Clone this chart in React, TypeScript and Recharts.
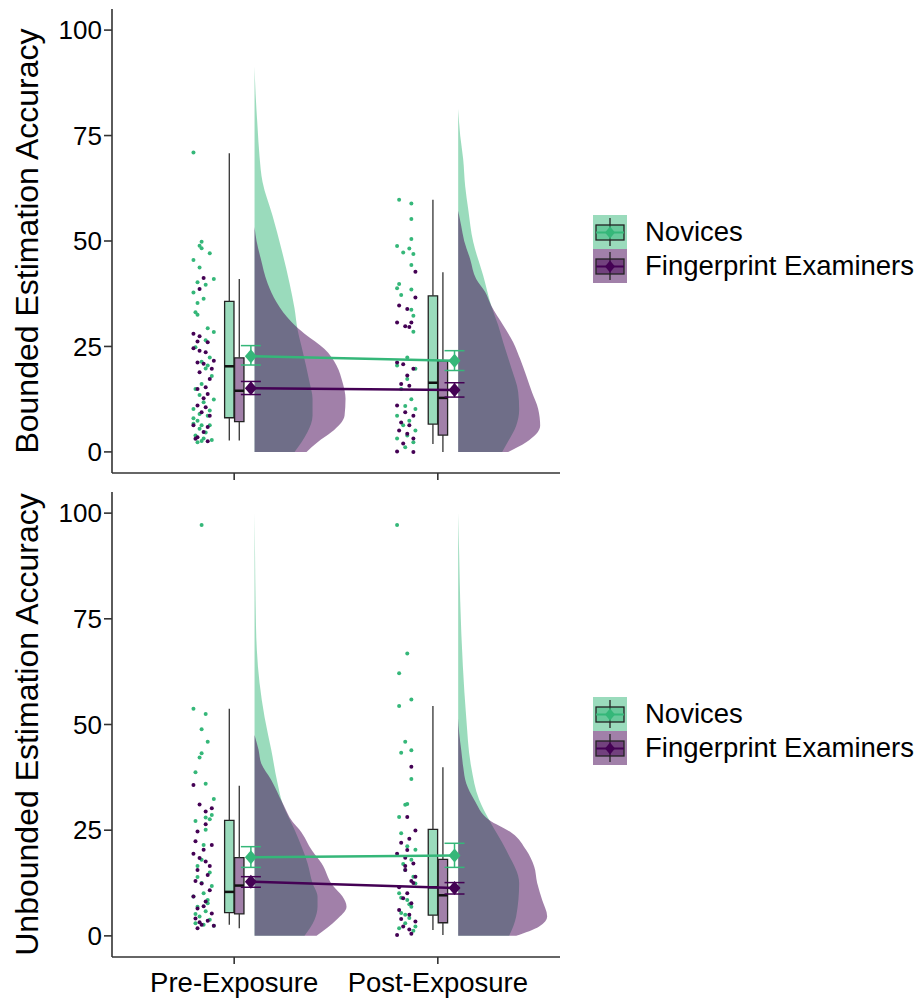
import { ComposedChart, Area, Scatter, XAxis, YAxis, ReferenceArea, ReferenceLine, ErrorBar, Legend } from "recharts"

const FONT = "'Liberation Sans', Arial, Helvetica, sans-serif"
const GREEN = "#35b779"
const PURPLE = "#440154"
const COLORS = [GREEN, PURPLE]

const conditions = ["Pre-Exposure", "Post-Exposure"]
const groupNames = ["Novices", "Fingerprint Examiners"]

// half-violin densities: [score, relative density]
const boundedPreNovicesDensity = [[91.3, 0], [85, 0.01], [77, 0.03], [70, 0.05], [64, 0.08], [56, 0.18], [48, 0.27], [40, 0.35], [34, 0.4], [29, 0.43], [24, 0.48], [16.5, 0.55], [12.6, 0.58], [8.6, 0.58], [4.7, 0.53], [2.3, 0.47], [0, 0.4]]
const boundedPreExaminersDensity = [[53.3, 0], [50, 0.02], [46, 0.06], [40, 0.13], [35.5, 0.22], [30.8, 0.37], [28, 0.5], [24.4, 0.7], [20.5, 0.82], [16.5, 0.88], [12.6, 0.91], [8.6, 0.9], [4.7, 0.77], [2.3, 0.63], [0, 0.52]]
const boundedPostNovicesDensity = [[81.3, 0], [75, 0.02], [69.4, 0.05], [63, 0.07], [57.6, 0.1], [49.8, 0.15], [41.8, 0.25], [34.7, 0.33], [30, 0.4], [26, 0.45], [20, 0.53], [14.2, 0.6], [10, 0.61], [6.2, 0.58], [2.5, 0.5], [0, 0.44]]
const boundedPostExaminersDensity = [[57.2, 0], [53.6, 0.03], [50, 0.06], [45.7, 0.12], [41, 0.18], [37.9, 0.27], [34.7, 0.33], [30, 0.45], [26, 0.55], [22, 0.62], [18.1, 0.68], [14, 0.74], [10.2, 0.8], [6.2, 0.82], [2.3, 0.68], [0, 0.5]]
const unboundedPreNovicesDensity = [[100, 0], [90, 0.005], [79.4, 0.01], [67.6, 0.023], [59.8, 0.05], [51.8, 0.1], [44, 0.167], [36.1, 0.23], [31.3, 0.28], [25.1, 0.4], [17.2, 0.53], [12.5, 0.58], [9.3, 0.63], [6.9, 0.63], [3.8, 0.6], [0, 0.5]]
const unboundedPreExaminersDensity = [[47.5, 0], [44, 0.04], [40.8, 0.067], [36.9, 0.167], [31.3, 0.283], [27, 0.38], [25.1, 0.45], [20, 0.58], [17.2, 0.67], [12, 0.78], [9.3, 0.88], [6.9, 0.92], [3.8, 0.82], [0, 0.62]]
const unboundedPostNovicesDensity = [[100, 0], [90, 0.01], [79.4, 0.02], [63.7, 0.047], [51.8, 0.08], [40, 0.13], [32.2, 0.21], [27.4, 0.31], [20.3, 0.48], [12.5, 0.61], [4.6, 0.58], [0, 0.51]]
const unboundedPostExaminersDensity = [[51.5, 0], [48, 0.01], [44, 0.03], [40, 0.05], [36.1, 0.08], [32.2, 0.16], [27.4, 0.31], [24.3, 0.54], [20.3, 0.68], [16.4, 0.76], [12.5, 0.79], [8.5, 0.84], [4.6, 0.89], [2.2, 0.81], [0, 0.58]]

// individual scores: [jittered x, score]
const boundedPreNovicesScores = [[0.8, 71.0], [0.84, 49.8], [0.83, 48.9], [0.84, 48.3], [0.88, 47.1], [0.8, 45.5], [0.83, 43.7], [0.82, 40.2], [0.86, 39.6], [0.9, 41.0], [0.8, 37.8], [0.85, 36.3], [0.82, 35.3], [0.81, 33.1], [0.82, 32.5], [0.87, 29.3], [0.9, 28.4], [0.88, 22.4], [0.86, 19.8], [0.84, 21.4], [0.87, 20.5], [0.84, 16.1], [0.81, 14.9], [0.85, 11.8], [0.9, 12.4], [0.8, 10.2], [0.83, 9.0], [0.87, 8.6], [0.82, 7.4], [0.8, 6.7], [0.84, 6.3], [0.88, 6.3], [0.83, 5.5], [0.81, 3.9], [0.85, 3.2], [0.89, 2.8], [0.82, 2.3], [0.86, 26.5], [0.81, 24.8], [0.89, 18.0], [0.83, 13.5], [0.86, 4.6], [0.88, 9.8], [0.8, 8.0], [0.84, 2.6]]
const boundedPreExaminersScores = [[0.85, 41.2], [0.83, 38.6], [0.8, 28.0], [0.83, 27.4], [0.82, 26.2], [0.87, 26.0], [0.8, 24.6], [0.83, 24.0], [0.86, 23.6], [0.9, 21.6], [0.82, 21.2], [0.85, 20.9], [0.89, 19.7], [0.83, 18.9], [0.88, 17.3], [0.82, 14.9], [0.86, 15.3], [0.87, 13.7], [0.85, 12.7], [0.82, 11.0], [0.86, 10.6], [0.84, 9.4], [0.88, 8.6], [0.8, 6.3], [0.87, 5.9], [0.85, 4.7], [0.82, 3.5], [0.87, 2.5], [0.81, 3.1]]
const boundedPostNovicesScores = [[1.81, 59.8], [1.87, 58.9], [1.87, 55.2], [1.87, 50.5], [1.8, 48.8], [1.83, 47.3], [1.86, 48.2], [1.88, 46.9], [1.87, 44.3], [1.81, 39.8], [1.8, 38.8], [1.82, 37.2], [1.87, 38.5], [1.87, 33.7], [1.88, 32.3], [1.88, 28.5], [1.85, 22.4], [1.8, 20.5], [1.89, 19.7], [1.85, 17.3], [1.82, 14.9], [1.87, 12.5], [1.84, 10.9], [1.89, 10.2], [1.8, 8.6], [1.86, 7.4], [1.83, 6.3], [1.89, 5.1], [1.85, 3.9], [1.8, 3.2], [1.88, 2.3], [1.84, 1.1]]
const boundedPostExaminersScores = [[1.89, 42.7], [1.89, 36.6], [1.81, 34.7], [1.85, 33.9], [1.8, 30.7], [1.84, 29.8], [1.87, 30.7], [1.86, 29.6], [1.8, 21.2], [1.83, 20.8], [1.88, 19.7], [1.85, 18.1], [1.82, 16.1], [1.86, 15.7], [1.8, 11.0], [1.84, 9.4], [1.88, 8.6], [1.82, 7.0], [1.86, 6.3], [1.81, 5.1], [1.85, 4.3], [1.88, 3.2], [1.83, 2.0], [1.8, 0.1], [1.88, 0.0]]
const unboundedPreNovicesScores = [[0.84, 97.2], [0.8, 53.7], [0.86, 52.5], [0.84, 48.9], [0.87, 45.9], [0.84, 43.2], [0.83, 42.2], [0.81, 38.7], [0.86, 36.0], [0.9, 32.4], [0.81, 27.2], [0.86, 28.0], [0.89, 28.6], [0.88, 27.6], [0.86, 25.1], [0.84, 18.0], [0.82, 13.9], [0.89, 11.8], [0.8, 9.3], [0.85, 10.1], [0.87, 7.7], [0.82, 6.9], [0.86, 5.8], [0.83, 4.6], [0.88, 3.8], [0.81, 3.0], [0.85, 2.6], [0.9, 2.4], [0.85, 21.5], [0.82, 16.5], [0.88, 15.0], [0.84, 12.5], [0.87, 8.5], [0.81, 5.2]]
const unboundedPreExaminersScores = [[0.8, 35.7], [0.83, 31.1], [0.89, 30.2], [0.86, 29.4], [0.86, 26.4], [0.82, 24.7], [0.81, 22.4], [0.89, 21.5], [0.8, 19.4], [0.83, 18.4], [0.86, 17.6], [0.82, 15.6], [0.87, 14.4], [0.84, 12.4], [0.88, 10.8], [0.8, 9.3], [0.86, 8.1], [0.82, 6.5], [0.89, 5.3], [0.81, 4.1], [0.87, 3.6], [0.84, 2.6], [0.9, 2.4], [0.82, 1.8], [0.85, 20.4], [0.88, 16.5], [0.81, 13.0], [0.85, 7.0], [0.83, 3.2]]
const unboundedPostNovicesScores = [[1.8, 97.2], [1.85, 66.8], [1.81, 62.1], [1.87, 55.9], [1.81, 54.4], [1.84, 45.9], [1.82, 43.3], [1.87, 43.9], [1.87, 37.1], [1.84, 31.0], [1.85, 31.2], [1.81, 28.1], [1.82, 24.3], [1.85, 21.2], [1.89, 20.4], [1.87, 18.0], [1.84, 15.6], [1.89, 12.4], [1.81, 10.1], [1.85, 8.5], [1.87, 6.9], [1.82, 5.4], [1.86, 4.2], [1.84, 3.0], [1.89, 2.2], [1.81, 1.8], [1.83, 17.0], [1.88, 14.0], [1.82, 9.0], [1.86, 7.5], [1.84, 5.0], [1.88, 1.2]]
const unboundedPostExaminersScores = [[1.87, 40.0], [1.85, 28.1], [1.89, 24.9], [1.8, 19.4], [1.85, 20.3], [1.88, 17.1], [1.84, 15.6], [1.89, 14.0], [1.81, 11.5], [1.85, 10.1], [1.83, 8.9], [1.87, 7.7], [1.81, 6.1], [1.86, 5.0], [1.89, 3.4], [1.83, 2.2], [1.8, 0.2], [1.87, 0.5], [1.82, 22.0], [1.86, 23.0], [1.84, 18.5], [1.88, 12.5], [1.82, 4.0], [1.86, 1.5], [1.84, 16.5], [1.87, 13.0]]

// boxplots per condition: [min, q1, median, q3, max]
const boundedNovicesBoxes = [[2.7, 8.1, 20.3, 35.7, 70.8], [1.9, 6.6, 16.4, 37.0, 59.8]]
const boundedExaminersBoxes = [[2.7, 7.2, 14.5, 22.3, 41.0], [0, 4.0, 12.8, 21.6, 42.6]]
const unboundedNovicesBoxes = [[2.6, 5.5, 10.4, 27.3, 53.7], [1.4, 4.9, 11.5, 25.2, 54.4]]
const unboundedExaminersBoxes = [[1.8, 5.2, 11.9, 18.5, 35.5], [0.2, 3.1, 9.6, 18.1, 39.9]]

// means per condition: [mean, lower, upper]
const boundedNovicesMeans = [[22.7, 20.6, 25.2], [21.6, 19.3, 24.0]]
const boundedExaminersMeans = [[15.1, 13.6, 16.7], [14.7, 13.0, 16.4]]
const unboundedNovicesMeans = [[18.6, 16.2, 21.1], [19.0, 16.2, 21.9]]
const unboundedExaminersMeans = [[12.8, 11.5, 14.0], [11.3, 9.9, 12.6]]

const yTicks = [0, 25, 50, 75, 100]

// layout constants (axis units)
const VIOLIN_OFFSET = 0.1
const DENSITY_SCALE = 0.491
const BOX_OFFSETS = [-0.024, 0.025]
const BOX_HALF = 0.023
const MEAN_OFFSET = 0.082

const dotShape = (color: string) => (p: any) => <circle cx={p.cx} cy={p.cy} r={2} fill={color} />
const diamondShape = (color: string) => (p: any) => (
  <polygon points={`${p.cx},${p.cy - 7} ${p.cx + 6},${p.cy} ${p.cx},${p.cy + 7} ${p.cx - 6},${p.cy}`} fill={color} />
)

function LegendKey({ color }: { color: string }) {
  return (
    <svg width={34} height={34} style={{ display: "block" }}>
      <rect x={0} y={0} width={34} height={34} fill={color} fillOpacity={0.5} />
      <line x1={17} x2={17} y1={3} y2={31} stroke="#222" strokeWidth={1.3} />
      <rect x={3} y={10} width={28} height={15} fill={color} fillOpacity={0.5} stroke="#222" strokeWidth={1.3} />
      <line x1={3} x2={31} y1={17.5} y2={17.5} stroke={color} strokeWidth={2} />
      <polygon points="17,11.5 22,17.5 17,23.5 12,17.5" fill={color} />
    </svg>
  )
}

const renderLegend = () => (
  <div style={{ fontFamily: FONT, fontSize: 27.5, color: "#000" }}>
    {groupNames.map((name, g) => (
      <div key={name} style={{ display: "flex", alignItems: "center", height: 34 }}>
        <LegendKey color={COLORS[g]} />
        <span style={{ marginLeft: 18, whiteSpace: "nowrap" }}>{name}</span>
      </div>
    ))}
  </div>
)

interface PanelProps {
  label: string
  densities: number[][][][]
  scores: number[][][][]
  boxes: number[][][]
  means: number[][][]
  showLabels: boolean
  height: number
  xAxisHeight: number
  legendTop: number
}

function Panel({ label, densities, scores, boxes, means, showLabels, height, xAxisHeight, legendTop }: PanelProps) {
  return (
    <ComposedChart layout="vertical" width={919} height={height} margin={{ top: 9, right: 359, bottom: 0, left: 0 }}>
      <XAxis
        type="number"
        domain={[0.4, 2.6]}
        ticks={[1, 2]}
        allowDataOverflow
        height={xAxisHeight}
        tickSize={7}
        tickMargin={8}
        tickFormatter={(v: number) => (showLabels ? conditions[v - 1] : "")}
        tick={{ fontSize: 27.5, fill: "#000", fontFamily: FONT }}
        axisLine={{ stroke: "#333", strokeWidth: 1.6 }}
        tickLine={{ stroke: "#333", strokeWidth: 1.6 }}
      />
      <YAxis
        type="number"
        dataKey="v"
        domain={[-5, 105]}
        ticks={yTicks}
        reversed
        allowDataOverflow
        width={112}
        tickSize={8}
        tick={{ fontSize: 26, fill: "#000", fontFamily: FONT }}
        axisLine={{ stroke: "#333", strokeWidth: 1.6 }}
        tickLine={{ stroke: "#333", strokeWidth: 1.6 }}
        label={{ value: label, angle: -90, position: "insideLeft", offset: 27, style: { textAnchor: "middle", fontSize: 32, fill: "#000", fontFamily: FONT } }}
      />
      <Legend layout="horizontal" align="center" verticalAlign="middle" width={330} wrapperStyle={{ left: 593, top: legendTop }} content={renderLegend} />
      {densities.map((byCond, g) =>
        byCond.map((dens, c) => (
          <Area
            key={`violin-${g}-${c}`}
            data={dens.map(([v, d]) => ({ v, w: c + 1 + VIOLIN_OFFSET + d * DENSITY_SCALE }))}
            dataKey="w"
            baseValue={c + 1 + VIOLIN_OFFSET}
            type="monotone"
            stroke="none"
            fill={COLORS[g]}
            fillOpacity={0.5}
            dot={false}
            activeDot={false}
            isAnimationActive={false}
          />
        ))
      )}
      {scores.map((byCond, g) => (
        <Scatter
          key={`scores-${g}`}
          data={[...byCond[0], ...byCond[1]].map(([u, v]) => ({ u, v }))}
          dataKey="u"
          shape={dotShape(COLORS[g])}
          isAnimationActive={false}
        />
      ))}
      {boxes.map((byCond, g) =>
        byCond.map(([lo, q1, med, q3, hi], c) => {
          const center = c + 1 + BOX_OFFSETS[g]
          return [
            <ReferenceLine key={`wl-${g}-${c}`} segment={[{ x: center, y: lo }, { x: center, y: q1 }]} stroke="#333" strokeWidth={1.3} />,
            <ReferenceLine key={`wh-${g}-${c}`} segment={[{ x: center, y: q3 }, { x: center, y: hi }]} stroke="#333" strokeWidth={1.3} />,
            <ReferenceArea
              key={`box-${g}-${c}`}
              x1={center - BOX_HALF}
              x2={center + BOX_HALF}
              y1={q1}
              y2={q3}
              fill={COLORS[g]}
              fillOpacity={0.5}
              stroke="#222"
              strokeWidth={1.3}
            />,
            <ReferenceLine key={`med-${g}-${c}`} segment={[{ x: center - BOX_HALF, y: med }, { x: center + BOX_HALF, y: med }]} stroke="#111" strokeWidth={2.5} />,
          ]
        })
      )}
      {means.map((byCond, g) => (
        <Scatter
          key={`means-${g}`}
          data={byCond.map(([m, lo, hi], c) => ({ u: c + 1 + MEAN_OFFSET, v: m, err: [m - lo, hi - m] }))}
          dataKey="u"
          line={{ stroke: COLORS[g], strokeWidth: 2.5 }}
          shape={diamondShape(COLORS[g])}
          isAnimationActive={false}
        >
          <ErrorBar dataKey="err" direction="y" width={10} stroke={COLORS[g]} strokeWidth={1.5} isAnimationActive={false} />
        </Scatter>
      ))}
    </ComposedChart>
  )
}

export default function App() {
  return (
    <div style={{ position: "absolute", left: 0, top: 0, width: 919, height: 999, background: "#fff", fontFamily: FONT }}>
      <div style={{ position: "absolute", left: 0, top: 0 }}>
        <Panel
          label="Bounded Estimation Accuracy"
          densities={[[boundedPreNovicesDensity, boundedPostNovicesDensity], [boundedPreExaminersDensity, boundedPostExaminersDensity]]}
          scores={[[boundedPreNovicesScores, boundedPostNovicesScores], [boundedPreExaminersScores, boundedPostExaminersScores]]}
          boxes={[boundedNovicesBoxes, boundedExaminersBoxes]}
          means={[boundedNovicesMeans, boundedExaminersMeans]}
          showLabels={false}
          height={490}
          xAxisHeight={17}
          legendTop={215}
        />
      </div>
      <div style={{ position: "absolute", left: 0, top: 483 }}>
        <Panel
          label="Unbounded Estimation Accuracy"
          densities={[[unboundedPreNovicesDensity, unboundedPostNovicesDensity], [unboundedPreExaminersDensity, unboundedPostExaminersDensity]]}
          scores={[[unboundedPreNovicesScores, unboundedPostNovicesScores], [unboundedPreExaminersScores, unboundedPostExaminersScores]]}
          boxes={[unboundedNovicesBoxes, unboundedExaminersBoxes]}
          means={[unboundedNovicesMeans, unboundedExaminersMeans]}
          showLabels
          height={516}
          xAxisHeight={42}
          legendTop={214}
        />
      </div>
    </div>
  )
}
